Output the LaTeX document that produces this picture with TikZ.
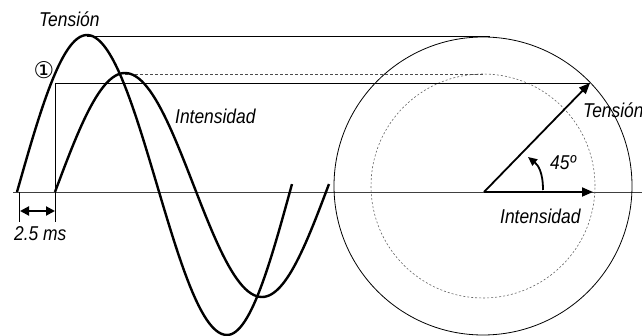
\documentclass[tikz,border=0pt]{standalone}
\usepackage{fontspec}
\usepackage{tikz}
\usetikzlibrary{calc,positioning,arrows.meta}
\newfontfamily\lblfont{Liberation Sans}[FakeStretch=0.87]
\newfontfamily\symfont{DejaVu Sans}

\begin{document}
\begin{tikzpicture}[x=1pt,y=-1pt]
\tikzstyle{wave}=[line width=2.4pt, line join=round]
\tikzstyle{guide}=[line width=0.8pt]
\tikzstyle{vec}=[line width=1.8pt, -{Triangle[length=11pt,width=9pt]}]
\tikzstyle{lbl}=[font=\lblfont\itshape\fontsize{20}{24}\selectfont, inner sep=0pt, anchor=base west]
\useasboundingbox (0,0) rectangle (642,336);
\coordinate (O) at (484,192);
\coordinate (C) at (483,186);
\coordinate (Tv) at (590,83);
\coordinate (Iv) at (593,192);
\coordinate (Tpk) at (87,36);
\coordinate (Ctop) at (490,36);
\coordinate (Ipk) at (125,74);
\coordinate (Dtop) at (483,74);
\coordinate (M) at (55,83);
\coordinate (Mb) at (55,222);
\coordinate (S) at (19,192);
\coordinate (Sb) at (19,222);
\coordinate (A0) at (13,192);
\coordinate (A1) at (642,192);
\coordinate (Da) at (20,211);
\coordinate (Db) at (55,211);
\coordinate (R0) at (543,190);
\coordinate (R1) at (528,157);
\draw[line width=0.9pt, black!75] (A0) -- (A1);
\draw[guide] (C) circle[radius=149pt];
\draw[guide, black!60, dash pattern=on 2pt off 2pt, line width=0.6pt] (C) circle[radius=112pt];
\draw[guide] (Tpk) -- (Ctop);
\draw[guide, black!70, dash pattern=on 3pt off 2pt] (Ipk) -- (Dtop);
\draw[guide] (M) -- (Tv);
\draw[guide] (M) -- (Mb);
\draw[guide] (S) -- (Sb);
\draw[line width=2pt, {Triangle[length=9pt,width=9pt]}-{Triangle[length=9pt,width=9pt]}] (Da) -- (Db);
\draw[wave] plot[domain=0:1, samples=30] ({17+70*\x},{192-157*sin(90*\x)})
  -- plot[domain=0:1, samples=50] ({87+140*\x},{185-150*cos(180*\x)})
  -- plot[domain=0:1, samples=30] ({227+65*\x},{335-151*(1-cos(90*\x))});
\draw[wave] plot[domain=0:1, samples=30] ({55+70*\x},{192-119*sin(90*\x)})
  -- plot[domain=0:1, samples=50] ({125+137*\x},{185-112*cos(180*\x)})
  -- plot[domain=0:1, samples=30] ({262+67*\x},{297-113*(1-cos(90*\x))});
\draw[vec] (O) -- (Tv);
\draw[vec] (O) -- (Iv);
\draw[line width=1.8pt, -{Triangle[length=9pt,width=8pt]}] (R0) .. controls (543,172) and (538,165) .. (R1);
\node[lbl] (tlab) at (39,27) {Tensión};
\node[lbl] (ilab) at (175,124) {Intensidad};
\node[lbl] (tvlab) at (583,118) {Tensión};
\node[lbl] (ivlab) at (500,224) {Intensidad};
\node[lbl] (ang) at (550,170) {45º};
\node[lbl] (ms) at (14,241) {2.5 ms};
\node[inner sep=0pt, font=\symfont\fontsize{23}{26}\selectfont] (one) at (44,70) {①};
\end{tikzpicture}
\end{document}
